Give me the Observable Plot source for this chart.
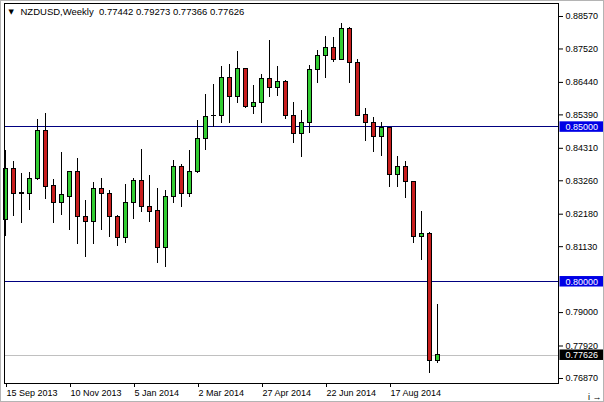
<!DOCTYPE html>
<html>
<head>
<meta charset="utf-8">
<script src="https://cdn.jsdelivr.net/npm/d3@7"></script>
<script src="https://cdn.jsdelivr.net/npm/@observablehq/plot@0.6"></script>
<style>
  html, body { margin: 0; padding: 0; background: #fff; }
  #chart svg { display: block; outline: 1px solid #b4b4b4; outline-offset: -1px; }
</style>
</head>
<body>
<div id="chart"></div>
<script>
// ---- data (weekly NZDUSD candles) ----
const symbol = "NZDUSD";
const period = "Weekly";

const opens = [
  0.81977, 0.83657, 0.82849, 0.82849, 0.83302, 0.84885, 0.83076, 0.82558, 0.82752, 0.83528,
  0.82074, 0.81944, 0.82979, 0.82817, 0.82074, 0.81395, 0.82558, 0.83269, 0.82397, 0.82268,
  0.81072, 0.82720, 0.83690, 0.82817, 0.83528, 0.84595, 0.85338, 0.85338, 0.86566, 0.85952,
  0.86857, 0.85629, 0.85758, 0.86534, 0.86243, 0.86437, 0.85370, 0.84788, 0.85112, 0.86825,
  0.87309, 0.87536, 0.87180, 0.88150, 0.87051, 0.85402, 0.85112, 0.84659, 0.84950, 0.83463,
  0.83690, 0.83205, 0.81427, 0.81556, 0.77442
];
const highs = [
  0.84239, 0.83884, 0.83496, 0.83528, 0.85241, 0.85435, 0.83302, 0.84174, 0.83560, 0.83980,
  0.82623, 0.83205, 0.83334, 0.82946, 0.82138, 0.83140, 0.83334, 0.84271, 0.83431, 0.83011,
  0.82946, 0.83916, 0.83787, 0.84239, 0.85209, 0.86049, 0.86372, 0.86954, 0.87019, 0.87439,
  0.86889, 0.86340, 0.86695, 0.87794, 0.86954, 0.86501, 0.85790, 0.85532, 0.86986, 0.87471,
  0.87924, 0.87891, 0.88344, 0.88214, 0.87180, 0.85596, 0.85306, 0.85144, 0.84982, 0.84045,
  0.83884, 0.83237, 0.82268, 0.81589, 0.79273
];
const lows = [
  0.81460, 0.82106, 0.81880, 0.82300, 0.83269, 0.82655, 0.81880, 0.82138, 0.81653, 0.81201,
  0.80781, 0.81201, 0.81653, 0.81427, 0.81136, 0.81233, 0.82009, 0.82235, 0.81912, 0.80587,
  0.80458, 0.82526, 0.82397, 0.82720, 0.83496, 0.84239, 0.84982, 0.85112, 0.85112, 0.85758,
  0.85596, 0.85402, 0.85112, 0.85952, 0.85984, 0.85241, 0.84465, 0.84013, 0.84788, 0.86404,
  0.86566, 0.87083, 0.87180, 0.86404, 0.85338, 0.84530, 0.84174, 0.84045, 0.83043, 0.83043,
  0.82688, 0.81233, 0.80684, 0.77032, 0.77366
];
const closes = [
  0.83657, 0.82849, 0.82855, 0.83302, 0.84885, 0.83043, 0.82558, 0.82785, 0.83528, 0.82074,
  0.81944, 0.82979, 0.82817, 0.82074, 0.81395, 0.82558, 0.83269, 0.82397, 0.82235, 0.81072,
  0.82720, 0.83690, 0.82817, 0.83560, 0.84595, 0.85306, 0.85345, 0.86566, 0.85952, 0.86857,
  0.85629, 0.85758, 0.86534, 0.86243, 0.86437, 0.85370, 0.84788, 0.85112, 0.86825, 0.87309,
  0.87536, 0.87180, 0.88150, 0.87051, 0.85370, 0.85112, 0.84659, 0.84950, 0.83463, 0.83690,
  0.83205, 0.81427, 0.81556, 0.77442, 0.77626
];

const xTickBars = [0, 8, 16, 24, 32, 40, 48];
const xTickLabels = ["15 Sep 2013", "10 Nov 2013", "5 Jan 2014", "2 Mar 2014", "27 Apr 2014", "22 Jun 2014", "17 Aug 2014"];
const yTicks = [0.88570, 0.87520, 0.86440, 0.85390, 0.84310, 0.83260, 0.82180, 0.81130, 0.79000, 0.77920, 0.76870];
const levels = [0.85000, 0.80000];

// ---- build ----
const candles = opens.map((o, i) => ({ i, open: o, high: highs[i], low: lows[i], close: closes[i] }));
const last = candles[candles.length - 1];
const fmt = d3.format(".5f");
const W = 604, H = 402;
const bull = "#32cd32", bear = "#c81e1e";

const header = `${symbol},${period}  ${fmt(last.open)} ${fmt(last.high)} ${fmt(last.low)} ${fmt(last.close)}`;

const chart = Plot.plot({
  width: W, height: H,
  marginLeft: 4, marginRight: 46, marginTop: 3, marginBottom: 19,
  style: { fontFamily: "'Liberation Sans', Arial, sans-serif", fontSize: "9px", background: "#fff", color: "#000", overflow: "visible" },
  x: { type: "linear", domain: [-0.125, 69.125] },
  y: { type: "linear", domain: [0.76708, 0.88990] },
  marks: [
    Plot.ruleY(levels, { stroke: "#000080", strokeWidth: 1, shapeRendering: "crispEdges" }),
    Plot.ruleY([last.close], { stroke: "#c0c0c0", strokeWidth: 1, shapeRendering: "crispEdges" }),
    Plot.ruleX(candles, { x: "i", y1: "low", y2: "high", stroke: "#000", strokeWidth: 1, shapeRendering: "crispEdges" }),
    Plot.rect(candles, {
      x1: d => d.i - 0.25, x2: d => d.i + 0.25,
      y1: "open", y2: "close",
      fill: d => d.close >= d.open ? bull : bear,
      stroke: "#000", strokeWidth: 1, shapeRendering: "crispEdges"
    }),
    Plot.frame({ stroke: "#000", shapeRendering: "crispEdges" }),
    Plot.axisX({ ticks: xTickBars, tickFormat: d => xTickLabels[xTickBars.indexOf(d)], tickSize: 4, tickPadding: 2, textAnchor: "start", dx: 1, fontSize: 9 }),
    Plot.axisY({ anchor: "right", ticks: yTicks, tickFormat: fmt, tickSize: 4, tickPadding: 3, fontSize: 9 }),
    Plot.text(levels, { y: d => d, frameAnchor: "right", text: d => fmt(d), dx: 7, textAnchor: "start", fill: "#fff", fontSize: 9 }),
    Plot.text([last], { y: "close", frameAnchor: "right", text: d => fmt(d.close), dx: 7, textAnchor: "start", fill: "#fff", fontSize: 9 }),
    Plot.text(["\u25BC"], { frameAnchor: "top-left", dx: 4, dy: 6, text: d => d, textAnchor: "start", lineAnchor: "top", fontSize: 7, fontFamily: "DejaVu Sans", fill: "#000" }),
    Plot.text([header], { frameAnchor: "top-left", dx: 16, dy: 5, text: d => d, textAnchor: "start", lineAnchor: "top", fontSize: 9.5, fill: "#000" })
  ]
});

document.getElementById("chart").append(chart);

// coloured boxes behind the level / bid price labels
const boxColor = new Map([[fmt(levels[0]), "#0000e6"], [fmt(levels[1]), "#0000e6"], [fmt(last.close), "#000000"]]);
d3.select(chart).selectAll("text").each(function () {
  const t = this.textContent;
  if (!boxColor.has(t)) return;
  const node = this;
  const b = node.getBBox();
  d3.select(node.parentNode).insert("rect", () => node)
    .attr("transform", node.getAttribute("transform"))
    .attr("x", b.x - 6).attr("y", b.y - 0.5)
    .attr("width", b.width + 13).attr("height", b.height + 0.5)
    .attr("fill", boxColor.get(t));
});
</script>
</body>
</html>
